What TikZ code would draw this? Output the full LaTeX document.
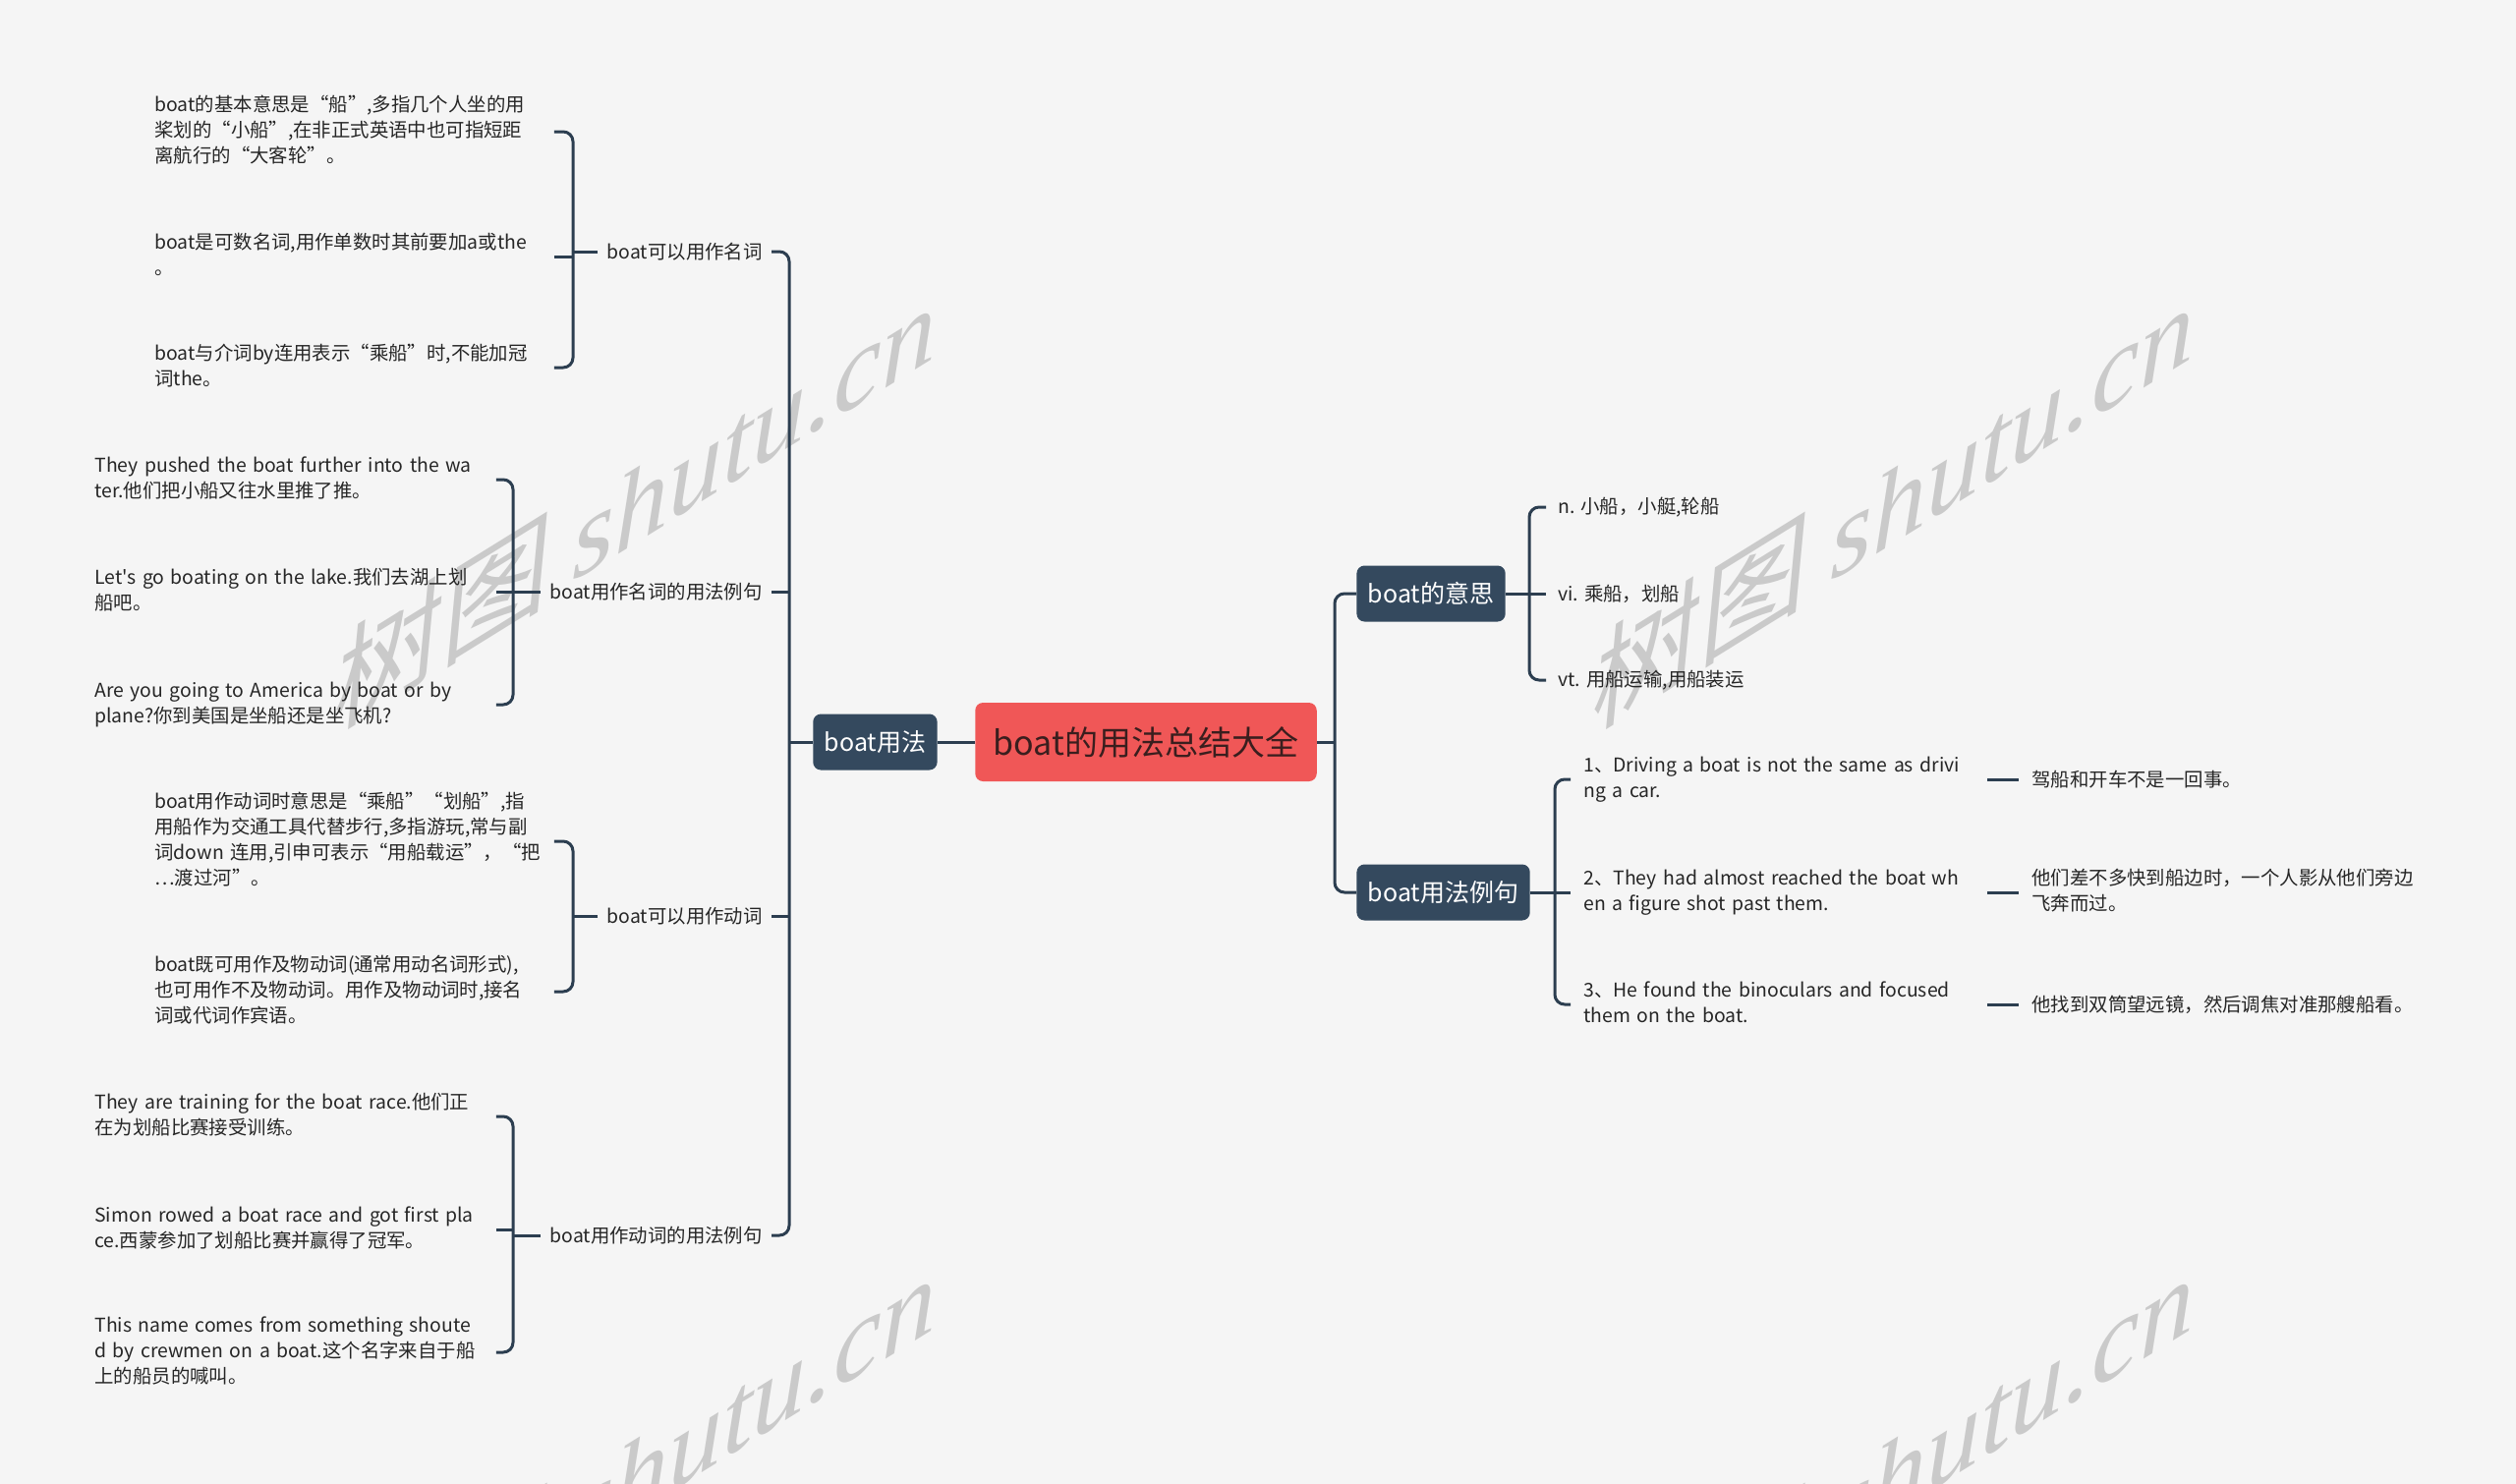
\documentclass[tikz,border=0pt]{standalone}
\usepackage{fontspec}
\setmainfont{Noto Sans CJK SC}[Ligatures=TeXOff]
\newfontfamily\wmlatin{Liberation Serif}
\newfontfamily\wmcjk[FakeSlant=0.1]{Noto Sans CJK SC}
\definecolor{bgcol}{HTML}{F5F5F5}
\definecolor{conncol}{HTML}{2C3E50}
\definecolor{darkcol}{HTML}{34495E}
\definecolor{rootfill}{HTML}{F05757}
\definecolor{roottext}{HTML}{3A1E1E}
\definecolor{txtcol}{HTML}{262626}
\definecolor{wmcol}{HTML}{CACACA}
\newcommand\mytab[1]{\begin{tabular}{@{}l@{}}#1\end{tabular}}
\begin{document}
\begin{tikzpicture}[x=0.5pt,y=-0.5pt,
  conn/.style={draw=conncol, line width=1.5pt, rounded corners=5pt},
  rootbox/.style={fill=rootfill, text=roottext, rounded corners=4pt,
    font=\fontsize{17}{20}\selectfont, minimum height=40pt, inner xsep=9.25pt},
  mainbox/.style={fill=darkcol, text=white, rounded corners=4pt,
    font=\fontsize{12.5}{15}\selectfont, minimum height=28.5pt, inner xsep=5.75pt},
  sublabel/.style={text=txtcol, font=\fontsize{9.7}{13}\selectfont,
    inner xsep=4.5pt, inner ysep=2pt},
  leaf/.style={text=txtcol, font=\fontsize{9.7}{13}\selectfont, inner sep=0pt, anchor=west, align=left},
  leafA/.style={leaf, text width=203pt},
  leafB/.style={leaf, text width=204pt},
  leafM/.style={leaf, inner xsep=6pt},
  leafE/.style={leaf, inner xsep=6.5pt, text width=198.5pt},
  leafT/.style={leaf, inner xsep=6.5pt},
  wm/.style={text=wmcol, yslant=0.62, font=\fontsize{55}{62}\selectfont},
]
\useasboundingbox (0,0) rectangle (2560,1510);
\fill[bgcol] (0,0) rectangle (2560,1510);

% watermarks
\begin{scope}
\clip (0,0) rectangle (2560,1510);
\node[wm] (wm1) at (645,512) {{\wmcjk 树图} {\wmlatin\itshape shutu.cn}};
\node[wm] (wm2) at (1925,512) {{\wmcjk 树图} {\wmlatin\itshape shutu.cn}};
\node[wm] (wm3) at (645,1500) {{\wmcjk 树图} {\wmlatin\itshape shutu.cn}};
\node[wm] (wm4) at (1925,1500) {{\wmcjk 树图} {\wmlatin\itshape shutu.cn}};
\end{scope}

% main nodes
\node[rootbox] (root) at (1166,755) {boat的用法总结大全};
\node[mainbox, anchor=east] (yongfa) at (954,755) {boat用法};
\node[mainbox, anchor=west] (yisi) at (1380,604) {boat的意思};
\node[mainbox, anchor=west] (liju) at (1380,908) {boat用法例句};

% level 2 labels
\node[sublabel, anchor=east] (n1) at (785,256) {boat可以用作名词};
\node[sublabel, anchor=east] (n2) at (785,602) {boat用作名词的用法例句};
\node[sublabel, anchor=east] (n3) at (785,932) {boat可以用作动词};
\node[sublabel, anchor=east] (n4) at (785,1257) {boat用作动词的用法例句};

% leaves of n1
\node[leafA] (a1) at (157,134) {\mytab{boat的基本意思是“船”,多指几个人坐的用\\桨划的“小船”,在非正式英语中也可指短距\\离航行的“大客轮”。}};
\node[leafA] (a2) at (157,261) {\mytab{boat是可数名词,用作单数时其前要加a或the\\。}};
\node[leafA] (a3) at (157,374) {\mytab{boat与介词by连用表示“乘船”时,不能加冠\\词the。}};
% leaves of n2
\node[leafB] (b1) at (96,488) {\mytab{They pushed the boat further into the wa\\ter.他们把小船又往水里推了推。}};
\node[leafB] (b2) at (96,602) {\mytab{Let's go boating on the lake.我们去湖上划\\船吧。}};
\node[leafB] (b3) at (96,717) {\mytab{Are you going to America by boat or by\\plane?你到美国是坐船还是坐飞机?}};
% leaves of n3
\node[leafA] (c1) at (157,856) {\mytab{boat用作动词时意思是“乘船”“划船”,指\\用船作为交通工具代替步行,多指游玩,常与副\\词down 连用,引申可表示“用船载运”，“把\\…渡过河”。}};
\node[leafA] (c2) at (157,1009) {\mytab{boat既可用作及物动词(通常用动名词形式),\\也可用作不及物动词。用作及物动词时,接名\\词或代词作宾语。}};
% leaves of n4
\node[leafB] (d1) at (96,1136) {\mytab{They are training for the boat race.他们正\\在为划船比赛接受训练。}};
\node[leafB] (d2) at (96,1251) {\mytab{Simon rowed a boat race and got first pla\\ce.西蒙参加了划船比赛并赢得了冠军。}};
\node[leafB] (d3) at (96,1376) {\mytab{This name comes from something shoute\\d by crewmen on a boat.这个名字来自于船\\上的船员的喊叫。}};

% right: meanings
\node[leafM] (m1) at (1573,516) {n. 小船，小艇,轮船};
\node[leafM] (m2) at (1573,604) {vi. 乘船，划船};
\node[leafM] (m3) at (1573,692) {vt. 用船运输,用船装运};

% right: examples
\node[leafE] (e1) at (1598,793) {\mytab{1、Driving a boat is not the same as drivi\\ng a car.}};
\node[leafE] (e2) at (1598,908) {\mytab{2、They had almost reached the boat wh\\en a figure shot past them.}};
\node[leafE] (e3) at (1598,1022) {\mytab{3、He found the binoculars and focused\\them on the boat.}};
\node[leafT] (t1) at (2054,793) {驾船和开车不是一回事。};
\node[leafT] (t2) at (2054,908) {\mytab{他们差不多快到船边时，一个人影从他们旁边\\飞奔而过。}};
\node[leafT] (t3) at (2054,1022) {他找到双筒望远镜，然后调焦对准那艘船看。};

% trunks
\coordinate (LT) at (803,755);
\coordinate (RT) at (1358,755);
\draw[conn] (root.west) -- (yongfa.east);
\draw[conn] (yongfa.west) -- (LT);
\draw[conn] (n1.east) -| (LT) |- (n4.east);
\draw[conn] (n2.east) -- (n2.east -| LT);
\draw[conn] (n3.east) -- (n3.east -| LT);
\draw[conn] (root.east) -- (RT);
\draw[conn] (yisi.west) -| (RT) |- (liju.west);

% left brackets
\coordinate (B1) at (583,256);
\draw[conn] (n1.west) -- (B1);
\draw[conn] (a1.east) -| (B1) |- (a3.east);
\draw[conn] (a2.east) -- (a2.east -| B1);
\coordinate (B2) at (522,602);
\draw[conn] (n2.west) -- (B2);
\draw[conn] (b1.east) -| (B2) |- (b3.east);
\draw[conn] (b2.east) -- (b2.east -| B2);
\coordinate (B3) at (583,932);
\draw[conn] (n3.west) -- (B3);
\draw[conn] (c1.east) -| (B3) |- (c2.east);
\coordinate (B4) at (522,1257);
\draw[conn] (n4.west) -- (B4);
\draw[conn] (d1.east) -| (B4) |- (d3.east);
\draw[conn] (d2.east) -- (d2.east -| B4);

% right brackets
\coordinate (B5) at (1556,604);
\draw[conn] (yisi.east) -- (m2.west);
\draw[conn] (m1.west) -| (B5) |- (m3.west);
\coordinate (B6) at (1582,908);
\draw[conn] (liju.east) -- (e2.west);
\draw[conn] (e1.west) -| (B6) |- (e3.west);
\draw[conn] (e1.east) -- (t1.west);
\draw[conn] (e2.east) -- (t2.west);
\draw[conn] (e3.east) -- (t3.west);
\end{tikzpicture}
\end{document}
